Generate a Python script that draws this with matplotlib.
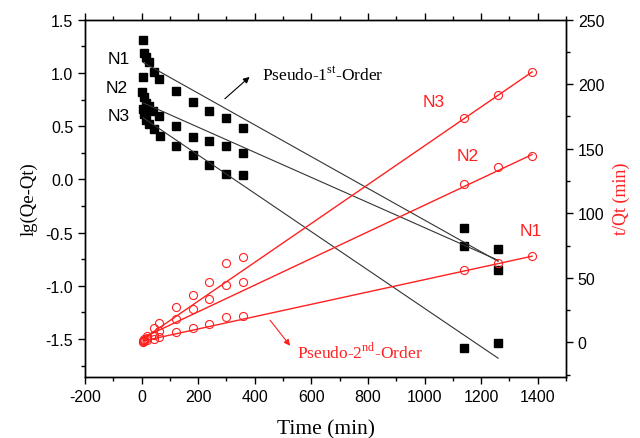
import matplotlib
matplotlib.use("Agg")
import matplotlib.pyplot as plt
from matplotlib.ticker import MultipleLocator

plt.rcParams['mathtext.fontset'] = 'custom'
plt.rcParams['mathtext.rm'] = 'Liberation Serif'

# ---- Data: pseudo-1st-order (left axis) ----
t_n1 = [5, 8, 15, 25, 45, 62, 120, 180, 240, 300, 360, 1140, 1260]
lg_n1 = [1.31, 1.19, 1.15, 1.10, 1.01, 0.94, 0.83, 0.73, 0.645, 0.58, 0.48, -0.46, -0.655]
t_n2 = [4, 2, 8, 15, 25, 42, 62, 120, 180, 240, 300, 360, 1140, 1260]
lg_n2 = [0.96, 0.82, 0.77, 0.72, 0.69, 0.645, 0.60, 0.50, 0.40, 0.357, 0.316, 0.244, -0.63, -0.85]
t_n3 = [4, 8, 15, 25, 45, 65, 120, 180, 240, 300, 360, 1140, 1260]
lg_n3 = [0.66, 0.61, 0.56, 0.52, 0.47, 0.41, 0.316, 0.228, 0.134, 0.05, 0.04, -1.58, -1.54]

# fitted lines (endpoints)
fit1_t = [5, 1260]
fit1_n1 = [1.10, -0.77]
fit1_n2 = [0.72, -0.76]
fit1_n3 = [0.58, -1.68]

# ---- Data: pseudo-2nd-order (right axis) ----
t_r = [5, 10, 20, 45, 60, 120, 180, 240, 300, 360, 1140, 1260, 1380]
tq_n1 = [0.5, 1.2, 2.0, 2.8, 4.0, 8.2, 11.1, 14.4, 19.4, 20.4, 56.3, 61.5, 66.7]
tq_n2 = [0.8, 2.0, 3.5, 5.7, 9.0, 18.4, 25.8, 33.6, 44.4, 47.0, 122.7, 136.1, 144.7]
tq_n3 = [1.0, 2.5, 5.0, 10.9, 14.6, 27.1, 36.9, 46.5, 61.2, 66.4, 173.6, 191.7, 209.3]

fit2_t = [5, 1380]
fit2_n1 = [1.0, 66.7]
fit2_n2 = [3.5, 145.5]
fit2_n3 = [2.5, 209.5]

xticks = [-200, 0, 200, 400, 600, 800, 1000, 1200, 1400]
yticks_left = [-1.5, -1.0, -0.5, 0.0, 0.5, 1.0, 1.5]
yticks_right = [0, 50, 100, 150, 200, 250]

fig = plt.figure(figsize=(6.4, 4.39), dpi=100)
ax = fig.add_axes([0.1328, 0.1396, 0.7516, 0.8132])
ax2 = ax.twinx()

red = '#ff2020'

# black squares + fits
for tt, vv in [(t_n1, lg_n1), (t_n2, lg_n2), (t_n3, lg_n3)]:
    ax.plot(tt, vv, linestyle='none', marker='s', color='black', markersize=5.8)
for fv in [fit1_n1, fit1_n2, fit1_n3]:
    ax.plot(fit1_t, fv, color='#333333', linewidth=0.8)

# red circles + fits
for vv in [tq_n1, tq_n2, tq_n3]:
    ax2.plot(t_r, vv, linestyle='none', marker='o', markerfacecolor='none',
             markeredgecolor=red, markersize=5.8, markeredgewidth=0.8)
for fv in [fit2_n1, fit2_n2, fit2_n3]:
    ax2.plot(fit2_t, fv, color=red, linewidth=1.0)

ax.set_xlim(-200, 1500)
ax.set_ylim(-1.854, 1.5)
ax2.set_ylim(-26.7, 250)

ax.xaxis.set_minor_locator(MultipleLocator(100))
ax.yaxis.set_minor_locator(MultipleLocator(0.25))
ax2.yaxis.set_minor_locator(MultipleLocator(25))

ax.tick_params(axis='both', which='major', direction='out', length=5, width=1.0,
               labelsize=11.5, top=True)
ax.tick_params(axis='both', which='minor', direction='out', length=3, width=1.0, top=True)
ax.tick_params(axis='y', right=False, which='both')
ax2.tick_params(axis='y', which='major', direction='out', length=5, width=1.0, labelsize=11.5)
ax2.tick_params(axis='y', which='minor', direction='out', length=3, width=1.0)

ax.set_yticks(yticks_left)
ax.set_yticklabels([f'{v:.1f}' for v in yticks_left], fontfamily='Liberation Sans')
ax.set_xticks(xticks)
ax.set_xticklabels([str(v) for v in xticks], fontfamily='Liberation Sans')
ax2.set_yticks(yticks_right)
ax2.set_yticklabels([str(v) for v in yticks_right], fontfamily='Liberation Sans')

for sp in list(ax.spines.values()) + list(ax2.spines.values()):
    sp.set_linewidth(1.0)

ax.set_xlabel('Time (min)', fontfamily='Liberation Serif', fontsize=15.5, labelpad=11)
ax.set_ylabel('lg(Qe-Qt)', fontfamily='Liberation Serif', fontsize=13.5, labelpad=6)
ax2.set_ylabel('t/Qt (min)', fontfamily='Liberation Serif', fontsize=13, color=red, labelpad=6)

# labels
for txt, x, y in [('N1', -82, 1.137), ('N2', -88, 0.865), ('N3', -82, 0.598)]:
    ax.text(x, y, txt, fontfamily='Liberation Sans', fontsize=12.5, ha='center', va='center')
for txt, x, y in [('N3', 1033, 187), ('N2', 1153, 144.4), ('N1', 1376, 86.3)]:
    ax2.text(x, y, txt, fontfamily='Liberation Sans', fontsize=12.5, ha='center', va='center', color=red)

ax.annotate('', xy=(389, 0.98), xytext=(287, 0.74),
            arrowprops=dict(arrowstyle='-|>', color='black', lw=0.8, mutation_scale=9))
ax.text(425, 0.99, 'Pseudo-1$^{\\mathrm{st}}$-Order', fontfamily='Liberation Serif',
        fontsize=12.5, ha='left', va='center')
ax2.annotate('', xy=(531, -4.4), xytext=(448, 18.8),
             arrowprops=dict(arrowstyle='-|>', color=red, lw=0.8, mutation_scale=9))
ax2.text(549, -6.7, 'Pseudo-2$^{\\mathrm{nd}}$-Order', fontfamily='Liberation Serif',
         fontsize=12.5, ha='left', va='center', color=red)

fig.savefig('out.png', dpi=100)
